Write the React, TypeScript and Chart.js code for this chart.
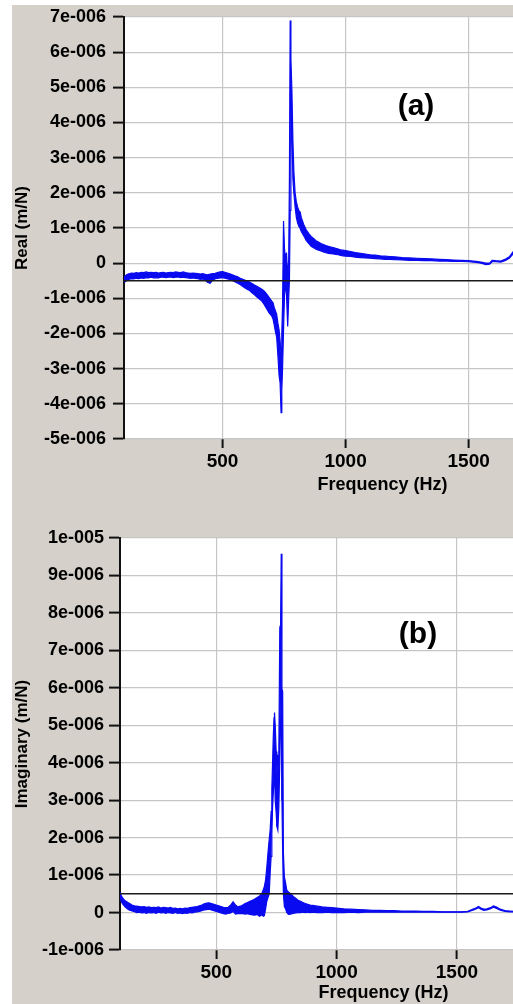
import React, { useEffect, useRef } from "react";
import { Chart, registerables } from "chart.js";

Chart.register(...registerables);

// ---------- data (values in units of 1e-6 m/N) ----------
const REAL_FREQ = [
  100, 110, 120, 130, 140, 150, 160, 170, 180, 190, 200, 210, 220, 230, 240, 250, 260, 270, 280, 290,
  300, 310, 320, 330, 340, 350, 360, 370, 380, 390, 400, 410, 420, 430, 440, 450, 460, 470, 480, 490,
  500, 510, 520, 530, 540, 550, 560, 570, 580, 590, 600, 610, 620, 630, 640, 650, 660, 670, 680, 690,
  700, 705, 710, 715, 720, 725, 730, 734, 738, 741, 744, 748, 752, 756, 760, 765, 769, 772, 775, 778,
  782, 786, 790, 795, 800, 805, 810, 816, 820, 830, 840, 850, 860, 870, 880, 890, 900, 910, 920, 930,
  940, 950, 960, 970, 980, 990, 1000, 1020, 1040, 1060, 1080, 1100, 1120, 1140, 1160, 1180, 1200, 1230, 1260, 1290,
  1320, 1350, 1380, 1410, 1440, 1470, 1500, 1530, 1550, 1570, 1585, 1595, 1610, 1630, 1650, 1665, 1680, 1690,
];
const REAL_HI = [
  -0.40, -0.33, -0.30, -0.28, -0.29, -0.27, -0.28, -0.26, -0.27, -0.25, -0.27, -0.26, -0.27, -0.26, -0.28, -0.27, -0.26, -0.28, -0.27, -0.26,
  -0.27, -0.25, -0.26, -0.27, -0.25, -0.27, -0.28, -0.29, -0.28, -0.29, -0.30, -0.31, -0.30, -0.32, -0.33, -0.31, -0.30, -0.29, -0.27, -0.25,
  -0.24, -0.26, -0.28, -0.30, -0.33, -0.36, -0.38, -0.42, -0.45, -0.48, -0.51, -0.54, -0.58, -0.62, -0.66, -0.70, -0.74, -0.80, -0.88, -0.98,
  -1.08, -1.12, -1.25, -1.35, -1.45, -1.70, -1.90, -2.20, -2.60, -2.00, -1.20, 1.20, 0.40, 0.10, 0.30, -0.40, 0.10, 2.50, 6.90, 5.80,
  4.90, 3.50, 2.60, 2.00, 1.75, 1.60, 1.50, 1.45, 1.30, 1.10, 0.95, 0.85, 0.76, 0.70, 0.64, 0.60, 0.56, 0.53, 0.50, 0.48,
  0.46, 0.44, 0.42, 0.40, 0.38, 0.37, 0.36, 0.33, 0.30, 0.28, 0.26, 0.24, 0.23, 0.21, 0.20, 0.19, 0.18, 0.16, 0.15, 0.14,
  0.13, 0.12, 0.11, 0.10, 0.09, 0.08, 0.07, 0.05, 0.03, 0.00, 0.00, 0.08, 0.07, 0.06, 0.12, 0.18, 0.32, 0.40,
];
const REAL_LO = [
  -0.55, -0.50, -0.46, -0.44, -0.45, -0.43, -0.44, -0.42, -0.43, -0.41, -0.42, -0.40, -0.42, -0.41, -0.42, -0.40, -0.40, -0.41, -0.40, -0.39,
  -0.41, -0.40, -0.39, -0.41, -0.40, -0.41, -0.42, -0.43, -0.42, -0.43, -0.44, -0.46, -0.45, -0.48, -0.55, -0.57, -0.48, -0.45, -0.43, -0.42,
  -0.41, -0.43, -0.45, -0.46, -0.49, -0.53, -0.56, -0.60, -0.65, -0.70, -0.74, -0.78, -0.84, -0.90, -0.96, -1.02, -1.08, -1.18, -1.30, -1.42,
  -1.50, -1.58, -1.75, -1.95, -2.10, -2.60, -3.20, -3.40, -4.25, -3.60, -3.00, -1.90, -0.90, -0.60, -0.90, -1.80, -1.00, -0.50, 1.50, 4.40,
  3.80, 2.40, 2.00, 1.60, 1.30, 1.15, 1.05, 0.98, 0.90, 0.78, 0.65, 0.56, 0.48, 0.44, 0.40, 0.37, 0.35, 0.32, 0.30, 0.28,
  0.27, 0.26, 0.25, 0.24, 0.22, 0.21, 0.20, 0.19, 0.17, 0.16, 0.15, 0.14, 0.13, 0.12, 0.11, 0.11, 0.10, 0.09, 0.08, 0.08,
  0.07, 0.07, 0.06, 0.06, 0.05, 0.05, 0.04, 0.02, 0.00, -0.04, -0.03, 0.04, 0.04, 0.03, 0.08, 0.14, 0.26, 0.34,
];

const IMAG_FREQ = [
  100, 105, 110, 120, 130, 140, 150, 160, 170, 180, 190, 200, 210, 220, 230, 240, 250, 260, 270, 280,
  290, 300, 310, 320, 330, 340, 350, 360, 370, 380, 390, 400, 410, 420, 430, 440, 450, 460, 470, 480,
  490, 500, 510, 520, 530, 540, 550, 560, 570, 580, 590, 600, 610, 620, 630, 640, 650, 660, 670, 680,
  690, 695, 700, 705, 710, 715, 720, 724, 728, 731, 734, 737, 740, 742, 745, 749, 752, 756, 760, 764,
  767, 770, 773, 776, 779, 783, 788, 793, 800, 810, 820, 830, 840, 850, 860, 870, 880, 890, 900, 920,
  940, 960, 980, 1000, 1030, 1060, 1090, 1120, 1150, 1180, 1210, 1240, 1270, 1300, 1330, 1360, 1400, 1440, 1480, 1520,
  1545, 1560, 1575, 1590, 1600, 1612, 1625, 1640, 1652, 1665, 1680, 1700, 1720, 1740,
];
const IMAG_HI = [
  0.55, 0.45, 0.40, 0.32, 0.28, 0.24, 0.20, 0.18, 0.17, 0.16, 0.15, 0.16, 0.14, 0.15, 0.13, 0.14, 0.13, 0.15, 0.12, 0.14,
  0.13, 0.12, 0.14, 0.11, 0.12, 0.10, 0.11, 0.10, 0.12, 0.11, 0.13, 0.14, 0.15, 0.16, 0.18, 0.20, 0.23, 0.25, 0.26, 0.24,
  0.22, 0.20, 0.18, 0.16, 0.14, 0.13, 0.14, 0.20, 0.29, 0.20, 0.15, 0.17, 0.20, 0.24, 0.27, 0.30, 0.33, 0.36, 0.40, 0.44,
  0.52, 0.60, 0.70, 0.87, 1.20, 1.60, 1.95, 2.20, 2.70, 3.30, 4.00, 4.70, 5.20, 5.34, 5.00, 4.30, 3.70, 4.20, 4.20, 7.57,
  7.50, 9.58, 5.96, 5.90, 1.60, 0.96, 0.79, 0.60, 0.55, 0.50, 0.43, 0.38, 0.33, 0.30, 0.27, 0.24, 0.22, 0.20, 0.19, 0.17,
  0.15, 0.14, 0.13, 0.12, 0.10, 0.09, 0.08, 0.07, 0.06, 0.06, 0.05, 0.05, 0.04, 0.04, 0.04, 0.03, 0.03, 0.02, 0.02, 0.02,
  0.03, 0.07, 0.11, 0.16, 0.12, 0.09, 0.10, 0.13, 0.18, 0.15, 0.09, 0.05, 0.04, 0.03,
];
const IMAG_LO = [
  0.40, 0.30, 0.24, 0.16, 0.10, 0.06, 0.04, 0.02, 0.00, 0.01, -0.01, 0.00, -0.02, 0.00, -0.01, 0.00, -0.02, 0.01, -0.01, 0.00,
  -0.02, 0.00, -0.01, -0.02, 0.00, -0.02, -0.01, -0.03, -0.01, -0.02, 0.00, -0.01, 0.01, 0.02, 0.03, 0.05, 0.07, 0.08, 0.09, 0.07,
  0.05, 0.03, 0.01, -0.01, -0.03, -0.04, -0.02, -0.01, 0.03, -0.04, -0.03, -0.02, -0.03, -0.04, -0.03, -0.05, -0.06, -0.07, -0.05, -0.10,
  -0.06, -0.10, -0.08, 0.10, 0.30, 0.40, 0.50, 1.05, 1.50, 2.10, 2.80, 3.20, 3.60, 3.80, 3.00, 2.66, 2.30, 2.20, 2.80, 4.00,
  5.00, 5.96, 3.00, 1.60, 0.50, 0.16, 0.10, 0.00, -0.05, -0.04, -0.02, -0.01, 0.00, 0.00, 0.01, 0.00, 0.01, 0.00, 0.01, 0.00,
  0.00, 0.01, 0.00, 0.00, 0.00, 0.01, 0.00, 0.01, 0.01, 0.01, 0.01, 0.01, 0.01, 0.01, 0.01, 0.01, 0.01, 0.01, 0.01, 0.01,
  0.02, 0.05, 0.08, 0.13, 0.09, 0.06, 0.07, 0.10, 0.14, 0.11, 0.06, 0.03, 0.02, 0.02,
];

const REAL_REF_LEVEL = [-0.5];
const IMAG_REF_LEVEL = [0.5];

const X_TICKS = [500, 1000, 1500];
const X_TICK_LABELS = ["500", "1000", "1500"];

const REAL_Y_TICKS = [-5, -4, -3, -2, -1, 0, 1, 2, 3, 4, 5, 6, 7];
const REAL_Y_LABELS = [
  "-5e-006", "-4e-006", "-3e-006", "-2e-006", "-1e-006", "0",
  "1e-006", "2e-006", "3e-006", "4e-006", "5e-006", "6e-006", "7e-006",
];
const IMAG_Y_TICKS = [-1, 0, 1, 2, 3, 4, 5, 6, 7, 8, 9, 10];
const IMAG_Y_LABELS = [
  "-1e-006", "0", "1e-006", "2e-006", "3e-006", "4e-006",
  "5e-006", "6e-006", "7e-006", "8e-006", "9e-006", "1e-005",
];

// ---------- styling ----------
const FONT = "'Liberation Sans', Arial, Helvetica, sans-serif";
const BLUE = "#0a0af0";
const GRID = "#c6c6c6";
const PANEL_GRAY = "#d5d1ca";

type PanelCfg = {
  freq: number[];
  hi: number[];
  lo: number[];
  ref: number;
  yTicks: number[];
  yLabels: string[];
  yTitle: string;
  xMin: number;
  xMax: number;
  yMin: number;
  yMax: number;
  yAxisWidth: number;
  xAxisHeight: number;
  padTop: number;
  yTickPad: number;
  xTitlePad: number;
};

const whiteArea = {
  id: "whiteArea",
  beforeDraw(chart: any) {
    const { ctx, chartArea } = chart;
    const { left, top, right, bottom } = chartArea;
    ctx.save();
    ctx.fillStyle = "#ffffff";
    ctx.fillRect(left, top, right - left, bottom - top);
    ctx.restore();
  },
};

function makeChart(canvas: HTMLCanvasElement, cfg: PanelCfg) {
  const toPts = (ys: number[]) => cfg.freq.map((x, i) => ({ x, y: ys[i] }));
  return new Chart(canvas, {
    type: "line",
    data: {
      datasets: [
        {
          data: [
            { x: cfg.xMin, y: cfg.ref },
            { x: cfg.xMax, y: cfg.ref },
          ],
          borderColor: "#1a1a1a",
          borderWidth: 1.5,
          pointRadius: 0,
          fill: false,
          order: 0,
        },
        {
          data: toPts(cfg.hi),
          borderColor: BLUE,
          backgroundColor: BLUE,
          borderWidth: 1.2,
          pointRadius: 0,
          fill: "+1",
          order: 1,
        },
        {
          data: toPts(cfg.lo),
          borderColor: BLUE,
          borderWidth: 1.2,
          pointRadius: 0,
          fill: false,
          order: 1,
        },
      ],
    } as any,
    options: {
      animation: false,
      responsive: false,
      devicePixelRatio: 1,
      layout: { padding: { top: cfg.padTop, left: 0, right: 0, bottom: 0 } },
      plugins: {
        legend: { display: false },
        tooltip: { enabled: false },
      },
      elements: { line: { tension: 0 } },
      scales: {
        x: {
          type: "linear",
          min: cfg.xMin,
          max: cfg.xMax,
          afterBuildTicks: (s: any) => {
            s.ticks = X_TICKS.map((v) => ({ value: v }));
          },
          afterFit: (s: any) => {
            s.height = cfg.xAxisHeight;
            s.paddingLeft = 0;
            s.paddingRight = 0;
          },
          grid: {
            color: GRID,
            lineWidth: 1.2,
            tickColor: "#111",
            tickLength: 9,
            tickWidth: 2,
          },
          border: { display: false },
          ticks: {
            color: "#000",
            padding: 2,
            maxRotation: 0,
            autoSkip: false,
            font: { family: FONT, size: 19, weight: "bold" },
            callback: (v: any) => X_TICK_LABELS[X_TICKS.indexOf(Number(v))] ?? "",
          },
          title: {
            display: true,
            text: "Frequency (Hz)",
            color: "#000",
            font: { family: FONT, size: 18, weight: "bold" },
            padding: { top: 0, bottom: cfg.xTitlePad },
          },
        },
        y: {
          min: cfg.yMin,
          max: cfg.yMax,
          afterBuildTicks: (s: any) => {
            s.ticks = cfg.yTicks.map((v) => ({ value: v }));
          },
          afterFit: (s: any) => {
            s.width = cfg.yAxisWidth;
            s.paddingTop = 0;
            s.paddingBottom = 0;
          },
          grid: {
            color: GRID,
            lineWidth: 1.2,
            tickColor: "#111",
            tickLength: 11,
            tickWidth: 2,
          },
          border: { color: "#111", width: 2 },
          ticks: {
            color: "#000",
            padding: cfg.yTickPad,
            autoSkip: false,
            font: { family: FONT, size: 18, weight: "bold" },
            callback: (v: any) => cfg.yLabels[cfg.yTicks.indexOf(Number(v))] ?? "",
          },
          title: {
            display: true,
            text: cfg.yTitle,
            color: "#000",
            font: { family: FONT, size: 17, weight: "bold" },
            padding: { top: 0, bottom: 0 },
          },
        },
      },
    } as any,
    plugins: [whiteArea],
  });
}

const TOP_CFG: PanelCfg = {
  freq: REAL_FREQ,
  hi: REAL_HI,
  lo: REAL_LO,
  ref: REAL_REF_LEVEL[0],
  yTicks: REAL_Y_TICKS,
  yLabels: REAL_Y_LABELS,
  yTitle: "Real (m/N)",
  xMin: 100,
  xMax: 2200,
  yMin: -5,
  yMax: 7,
  yAxisWidth: 112,
  xAxisHeight: 66,
  padTop: 12,
  yTickPad: 7,
  xTitlePad: 9,
};

const BOT_CFG: PanelCfg = {
  freq: IMAG_FREQ,
  hi: IMAG_HI,
  lo: IMAG_LO,
  ref: IMAG_REF_LEVEL[0],
  yTicks: IMAG_Y_TICKS,
  yLabels: IMAG_Y_LABELS,
  yTitle: "Imaginary (m/N)",
  xMin: 100,
  xMax: 2290,
  yMin: -1,
  yMax: 10,
  yAxisWidth: 108,
  xAxisHeight: 54,
  padTop: 13,
  yTickPad: 5,
  xTitlePad: 0,
};

const panelLabel = (cx: number, cy: number): React.CSSProperties => ({
  position: "absolute",
  left: cx,
  top: cy,
  transform: "translate(-50%, -50%)",
  fontFamily: FONT,
  fontWeight: "bold",
  fontSize: 30,
  lineHeight: 1,
  color: "#000",
  whiteSpace: "nowrap",
});

export default function App() {
  const topRef = useRef<HTMLCanvasElement>(null);
  const botRef = useRef<HTMLCanvasElement>(null);

  useEffect(() => {
    document.body.style.margin = "0";
    const a = makeChart(topRef.current!, TOP_CFG);
    const b = makeChart(botRef.current!, BOT_CFG);
    return () => {
      a.destroy();
      b.destroy();
    };
  }, []);

  return (
    <div
      style={{
        position: "relative",
        width: 513,
        height: 1004,
        overflow: "hidden",
        background: "#ffffff",
      }}
    >
      <div
        style={{
          position: "absolute",
          left: 12,
          top: 5,
          width: 501,
          height: 999,
          background: PANEL_GRAY,
        }}
      />
      <canvas
        ref={topRef}
        width={629}
        height={500}
        style={{ position: "absolute", left: 12, top: 5 }}
      />
      <canvas
        ref={botRef}
        width={635}
        height={479}
        style={{ position: "absolute", left: 12, top: 525 }}
      />
      <div style={panelLabel(416, 105)}>(a)</div>
      <div style={panelLabel(418, 633)}>(b)</div>
    </div>
  );
}
